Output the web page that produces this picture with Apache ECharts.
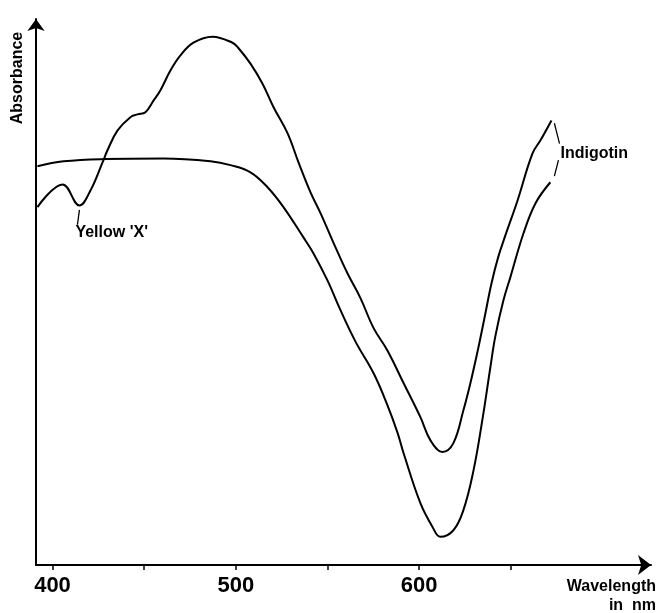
<!DOCTYPE html>
<html>
<head>
<meta charset="utf-8">
<script src="https://cdn.jsdelivr.net/npm/echarts@6/dist/echarts.min.js"></script>
<style>
html,body{margin:0;padding:0;background:#fff;}
#c{width:661px;height:613px;}
</style>
</head>
<body>
<div id="c"></div>
<script>
// Curve with "Yellow 'X'" feature (wavelength nm, relative absorbance)
const wlA = [391.8,405.5,414.7,420.7,427.3,430.0,435.5,442.5,446.4,450.7,455.1,458.9,464.4,469.8,476.9,487.3,498.2,501.5,508.0,514.5,520.6,528.2,534.2,540.7,546.2,554.4,560.9,568.0,575.1,582.7,591.5,600.7,606.2,612.7,618.7,624.2,628.0,631.8,635.6,639.5,643.3,647.1,653.7,661.8,666.2,672.2];
const absA = [64.9,69.0,65.2,67.9,73.0,75.2,78.8,81.2,81.7,82.1,84.2,86.1,89.7,92.4,94.7,95.8,94.7,93.7,90.9,87.3,83.0,78.3,73.0,67.6,63.8,57.6,52.9,48.4,43.0,38.9,33.0,26.8,22.6,20.5,22.1,28.1,33.0,38.6,44.7,51.1,56.0,59.8,66.1,74.6,77.0,80.6];
// Flat-topped indigotin curve
const wlB = [391.8,406.0,427.8,460.6,486.2,497.1,508.0,517.3,526.0,536.9,542.4,550.0,557.1,565.3,575.1,582.7,588.2,591.5,600.7,607.3,611.6,618.7,624.2,629.7,634.5,638.9,641.6,646.0,649.8,656.9,663.5,671.6];
const absB = [72.3,73.2,73.6,73.7,73.2,72.5,71.2,68.5,64.9,59.4,56.5,51.6,46.2,40.5,34.8,29.0,24.0,20.3,11.2,6.9,5.1,6.3,10.0,17.2,26.3,35.9,41.5,48.0,52.2,60.1,65.6,69.4];
const tickValues = [400,450,500,550,600,650];
const labelValues = [400,500,600];

const FONT = '"Liberation Sans", Arial, sans-serif';
const chart = echarts.init(document.getElementById('c'), null, {renderer:'canvas'});
const lineStyle = {color:'#000', width:2};
const option = {
  backgroundColor:'#fff',
  animation:false,
  grid:{left:36, right:10, top:19, bottom:48},
  xAxis:{
    type:'value', min:391, max:726.5,
    splitLine:{show:false},
    axisLine:{show:true, onZero:false, symbol:['none','arrow'], symbolSize:[15,13], lineStyle:{color:'#000', width:2}},
    axisTick:{show:true, inside:false, length:5, customValues:tickValues, lineStyle:{color:'#000', width:1.5}},
    axisLabel:{show:true, customValues:labelValues, margin:10, color:'#000', fontSize:22, fontWeight:'bold', fontFamily:FONT}
  },
  yAxis:{
    type:'value', min:0, max:99,
    splitLine:{show:false},
    axisLine:{show:true, onZero:false, symbol:['none','arrow'], symbolSize:[13,12], lineStyle:{color:'#000', width:2}},
    axisTick:{show:false},
    axisLabel:{show:false}
  },
  series:[
    {type:'line', data:wlA.map((w,i)=>[w,absA[i]]), showSymbol:false, smooth:0.4, lineStyle:lineStyle},
    {type:'line', data:wlB.map((w,i)=>[w,absB[i]]), showSymbol:false, smooth:0.4, lineStyle:lineStyle}
  ]
};
chart.setOption(option);

const P = (x,y)=>chart.convertToPixel({gridIndex:0},[x,y]);
const seg = (a,b)=>{const p=P(a[0],a[1]), q=P(b[0],b[1]); return {type:'line', shape:{x1:p[0],y1:p[1],x2:q[0],y2:q[1]}, style:{stroke:'#000', lineWidth:1.3}};};
const txt = (pos,text,align,size)=>({type:'text', x:pos[0], y:pos[1], style:{text:text, fill:'#000', font:'bold '+size+'px '+FONT, textAlign:align, textVerticalAlign:'middle'}});

const yx = P(412.5,60.3);
const ind = P(677.1,74.6);
const graphic = [
  seg([414.7,64.4],[413.6,61.7]),
  txt(yx,"Yellow 'X'",'left',16),
  seg([673.8,80.1],[676.6,76.4]),
  seg([676.0,73.4],[673.8,70.5]),
  txt(ind,'Indigotin','left',16),
  {type:'text', x:18, y:78, rotation:Math.PI/2, style:{text:'Absorbance', fill:'#000', font:'bold 16px '+FONT, textAlign:'center', textVerticalAlign:'middle'}},
  {type:'text', x:656, y:587, style:{text:'Wavelength', fill:'#000', font:'bold 16px '+FONT, textAlign:'right', textVerticalAlign:'middle'}},
  {type:'text', x:656, y:606, style:{text:'in  nm', fill:'#000', font:'bold 16px '+FONT, textAlign:'right', textVerticalAlign:'middle'}}
];
chart.setOption({graphic:graphic});
</script>
</body>
</html>
